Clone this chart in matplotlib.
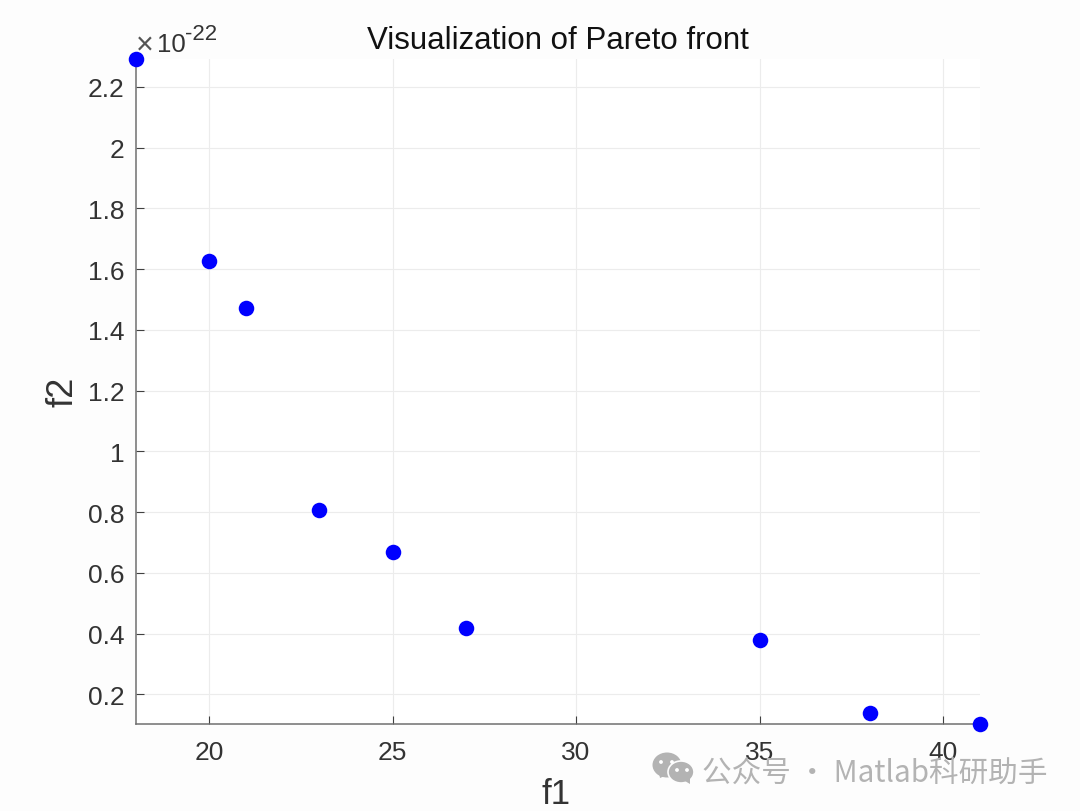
import matplotlib
matplotlib.use("Agg")
import matplotlib.pyplot as plt
from matplotlib.patches import Circle, Ellipse, Polygon

plt.rcParams['font.family'] = ['Liberation Sans', 'DejaVu Sans']

f1 = [18, 20, 21, 23, 25, 27, 35, 38, 41]
f2 = [2.292, 1.627, 1.471, 0.807, 0.669, 0.4205, 0.378, 0.139, 0.1045]
xticks = [20, 25, 30, 35, 40]
yticks = [0.2, 0.4, 0.6, 0.8, 1, 1.2, 1.4, 1.6, 1.8, 2, 2.2]
ylabels = ['0.2', '0.4', '0.6', '0.8', '1', '1.2', '1.4', '1.6', '1.8', '2', '2.2']

W, H = 1080, 812
fig = plt.figure(figsize=(10.8, 8.12), dpi=100, facecolor='#fdfdfd')
L, R, T, B = 135.5, 980, 60, 724.5
ax = fig.add_axes([L / W, 1 - B / H, (R - L) / W, (B - T) / H], facecolor='white')
ax.scatter(f1, f2, s=125, color='#0000ff', clip_on=False, zorder=5, linewidths=0)
ax.set_xlim(18, 41)
ax.set_ylim(0.1045, 2.292)
ax.set_xticks(xticks)
ax.set_yticks(yticks, ylabels)
ax.grid(True, color='#ececec', linewidth=0.8)
ax.set_axisbelow(True)
for s in ('top', 'right'):
    ax.spines[s].set_visible(False)
for s in ('left', 'bottom'):
    ax.spines[s].set_color('#707070')
    ax.spines[s].set_linewidth(1.1)
ax.tick_params(axis='both', direction='in', length=6, width=0.8, color='#404040',
               labelsize=19, labelcolor='#333333')
ax.tick_params(axis='x', pad=12)
ax.tick_params(axis='y', pad=8)

fig.text(558 / W, 1 - 41 / H, 'Visualization of Pareto front', ha='center', va='center',
         fontsize=22.5, color='#111111')
fig.text(556 / W, 1 - 795 / H, 'f1', ha='center', va='center', fontsize=25, color='#333333')
fig.text(63 / W, 1 - 392 / H, 'f2', ha='center', va='center', fontsize=26, color='#333333', rotation=90)
fig.text(136 / W, 1 - 46 / H, '×', ha='left', va='center', fontsize=22, color='#555555')
fig.text(157 / W, 1 - 45 / H, '10', ha='left', va='center', fontsize=18.5, color='#333333')
fig.text(185 / W, 1 - 35 / H, '-22', ha='left', va='center', fontsize=16, color='#333333')

# watermark
wm = '#b3b3b3'
bg = fig.add_axes([0, 0, 1, 1], facecolor='none', zorder=10)
bg.set_xlim(0, W)
bg.set_ylim(H, 0)
bg.axis('off')
bg.add_patch(Ellipse((667, 766), 29, 25, color=wm, lw=0))
bg.add_patch(Polygon([[659, 774], [660, 779], [667, 776]], color=wm, lw=0))
bg.add_patch(Ellipse((681, 773), 26, 22, fc=wm, ec='#fdfdfd', lw=1.2))
bg.add_patch(Polygon([[685, 782], [690, 785], [690, 778]], color=wm, lw=0))
for cx, cy, c in [(661, 763, 'white'), (672, 763, 'white'), (677, 771, 'white'), (687, 771, 'white')]:
    bg.add_patch(Circle((cx, cy), 1.9, color=c, lw=0))
bg.text(702, 773, '公众号 · Matlab科研助手', ha='left', va='center', fontsize=21.3, color=wm,
        family=['Noto Sans CJK SC', 'DejaVu Sans'])

fig.savefig('out.png', dpi=100, facecolor=fig.get_facecolor())
